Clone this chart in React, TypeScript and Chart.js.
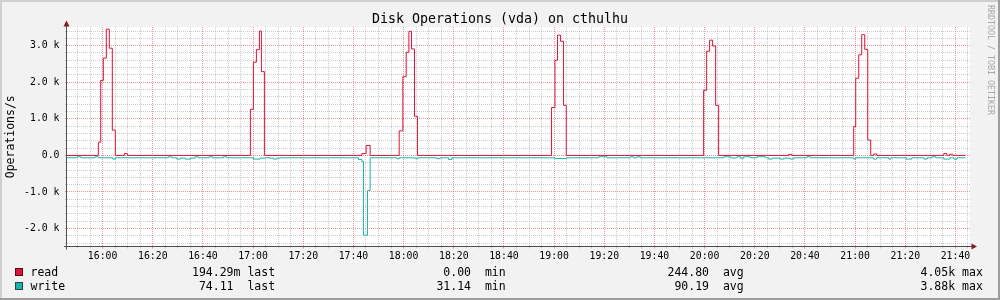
import React, { useEffect, useRef } from 'react';
import { Chart, registerables } from 'chart.js';

Chart.register(...registerables);

const FONT = '"DejaVu Sans Mono", monospace';

// ---- axes (time in minutes relative to 16:00) ----
const xMinMinutes = -14.2;
const xMaxMinutes = 345.8;
const xTickLabels = [
  '16:00', '16:20', '16:40', '17:00', '17:20', '17:40', '18:00', '18:20', '18:40',
  '19:00', '19:20', '19:40', '20:00', '20:20', '20:40', '21:00', '21:20', '21:40',
];
const yMinValue = -2490;
const yMaxValue = 3510;
const yTickValues = [-2000, -1000, 0, 1000, 2000, 3000];
const yTickLabels = ['-2.0 k', '-1.0 k', '0.0', '1.0 k', '2.0 k', '3.0 k'];

// ---- read series (ops/s), value holds from its time until the next time ----
const readTimes = [
  -14.2, -1.71, -0.76, 0.28, 1.48, 2.67, 3.87, 5.07, 8.66, 9.85,
  58.91, 60.11, 61.31, 62.51, 63.3, 64.5,
  103.35, 105.07, 106.66,
  118.23, 119.7, 121.02, 122.1, 123.14, 124.33, 125.53,
  178.98, 180.34, 181.37, 182.57, 183.77, 184.84,
  239.61, 240.81, 242.0, 243.2, 244.4, 245.59, 273.51, 274.71,
  299.44, 300.24, 301.44, 302.63, 303.83, 305.03, 306.22, 307.42, 308.62,
  335.34, 336.54, 337.73, 338.93, 344.0,
];
const readValues = [
  0, 360, 2050, 2660, 3450, 2930, 690, 0, 50, 0,
  1260, 2550, 2890, 3400, 2290, 0,
  50, 270, 0,
  670, 2150, 2820, 3390, 2910, 1070, 0,
  1310, 2600, 3290, 3120, 1370, 0,
  1780, 2850, 3150, 2990, 1370, 0, 30, 0,
  790, 2110, 2750, 3300, 2900, 420, 0, 40, 0,
  50, 0, 30, 0, 0,
];

// ---- write series (ops/s), drawn mirrored below zero ----
const writeTimes = [
  -14.2, -10.09, -8.74, -3.03, -1.71, 4.03, 5.07, 26.21, 27.56, 29.56, 30.87, 32.87, 34.86, 36.86, 38.17,
  42.44, 43.76, 48.15, 49.5, 60.11, 62.78, 64.78, 66.77, 68.09, 69.45, 70.76,
  102.0, 103.35, 103.99, 105.59, 106.66, 117.31, 118.23, 124.61, 125.53, 133.27, 134.58, 137.89, 139.25,
  180.34, 184.84, 197.73, 201.08, 210.37, 211.69, 213.04, 214.36,
  247.59, 250.26, 251.34, 252.25, 252.93, 254.25, 255.56, 258.24, 260.91, 264.22, 265.54, 266.89,
  270.2, 271.52, 274.19, 275.51, 280.85, 282.17,
  299.44, 300.24, 307.42, 308.62, 313.4, 314.2, 320.46, 322.58, 327.36, 328.72, 330.71, 332.15,
  335.34, 337.73, 339.33, 340.69, 344.0,
];
const writeValues = [
  65, 37, 65, 37, 65, 100, 65, 37, 65, 100, 75, 100, 75, 37, 65,
  37, 65, 37, 65, 100, 75, 65, 75, 100, 75, 65,
  110, 165, 2180, 960, 65, 90, 65, 90, 65, 90, 65, 110, 65,
  85, 65, 37, 65, 37, 65, 37, 65,
  37, 65, 75, 65, 37, 75, 37, 65, 37, 65, 100, 75,
  100, 75, 100, 65, 37, 65,
  100, 65, 100, 65, 100, 65, 100, 65, 100, 65, 37, 65,
  100, 65, 100, 65, 65,
];

// ---- legend ----
const legendNames = ['read', 'write'];
const legendColors = ['#dc143c', '#20b2aa'];
const legendLast = ['194.29m last', ' 74.11  last'];
const legendMin = ['  0.00  min', ' 31.14  min'];
const legendAvg = ['244.80  avg', ' 90.19  avg'];
const legendMax = ['4.05k max', '3.88k max'];

const TITLE = 'Disk Operations (vda) on cthulhu';
const Y_TITLE = 'Operations/s';
const WATERMARK = 'RRDTOOL / TOBI OETIKER';

const GRID = 'rgba(143,143,143,0.45)';
const MGRID = 'rgba(222,79,79,0.6)';
const AXIS = '#505050';
const ARROW = '#801f1f';

const near = (v: number, step: number) => Math.abs(v / step - Math.round(v / step)) < 1e-6;

const bgPlugin = {
  id: 'rrdBackground',
  beforeDraw(chart: any) {
    const { ctx, width, height, chartArea } = chart;
    ctx.save();
    ctx.fillStyle = '#f2f2f2';
    ctx.fillRect(0, 0, width, height);
    ctx.fillStyle = '#cfcfcf';
    ctx.fillRect(0, 0, width, 2);
    ctx.fillRect(0, 0, 2, height);
    ctx.fillStyle = '#9e9e9e';
    ctx.fillRect(width - 2, 0, 2, height);
    ctx.fillRect(0, height - 2, width, 2);
    ctx.fillStyle = '#ffffff';
    ctx.fillRect(chartArea.left, chartArea.top, chartArea.right - chartArea.left, chartArea.bottom - chartArea.top);
    ctx.restore();
  },
};

const axesPlugin = {
  id: 'rrdAxes',
  afterDatasetsDraw(chart: any) {
    const { ctx, chartArea } = chart;
    const { left, right, top, bottom } = chartArea;
    const ax = Math.round(left) - 0.5;
    const ay = Math.floor(bottom) + 0.5;
    ctx.save();
    ctx.strokeStyle = AXIS;
    ctx.lineWidth = 1;
    ctx.beginPath();
    ctx.moveTo(left - 3, ay);
    ctx.lineTo(right + 2, ay);
    ctx.moveTo(ax, bottom + 3);
    ctx.lineTo(ax, top - 1);
    ctx.stroke();
    ctx.fillStyle = ARROW;
    ctx.beginPath();
    ctx.moveTo(ax - 3, top - 0.5);
    ctx.lineTo(ax + 3, top - 0.5);
    ctx.lineTo(ax, top - 6.5);
    ctx.closePath();
    ctx.fill();
    ctx.beginPath();
    ctx.moveTo(right + 1.5, ay - 3);
    ctx.lineTo(right + 1.5, ay + 3);
    ctx.lineTo(right + 7, ay);
    ctx.closePath();
    ctx.fill();
    ctx.restore();
  },
};

export default function App() {
  const ref = useRef<HTMLCanvasElement>(null);

  useEffect(() => {
    const canvas = ref.current;
    if (!canvas) return;
    const readData = readTimes.map((t, i) => ({ x: t, y: readValues[i] }));
    const writeData = writeTimes.map((t, i) => ({ x: t, y: -writeValues[i] }));
    const chart = new Chart(canvas, {
      type: 'line',
      data: {
        datasets: [
          {
            label: legendNames[0],
            data: readData,
            borderColor: legendColors[0],
            borderWidth: 1,
            pointRadius: 0,
            stepped: 'before',
            fill: false,
          },
          {
            label: legendNames[1],
            data: writeData,
            borderColor: legendColors[1],
            borderWidth: 1,
            pointRadius: 0,
            stepped: 'before',
            fill: false,
          },
        ],
      },
      options: {
        responsive: false,
        animation: false,
        events: [],
        layout: { padding: { left: 0, top: 27, right: 30, bottom: 0 } },
        plugins: {
          legend: { display: false },
          tooltip: { enabled: false },
          title: { display: false },
        },
        scales: {
          x: {
            type: 'linear',
            min: xMinMinutes,
            max: xMaxMinutes,
            afterBuildTicks: (s: any) => {
              const t: any[] = [];
              for (let v = Math.ceil(xMinMinutes / 5) * 5; v <= xMaxMinutes; v += 5) t.push({ value: v });
              s.ticks = t;
            },
            afterFit: (s: any) => {
              s.height = 53.5;
            },
            border: { display: false, dash: [1, 1] },
            grid: {
              color: (c: any) => (near(c.tick.value, 20) ? MGRID : GRID),
              tickColor: (c: any) => (near(c.tick.value, 20) ? MGRID : GRID),
              tickLength: 2,
              tickBorderDash: [],
              drawTicks: true,
            },
            ticks: {
              autoSkip: false,
              maxRotation: 0,
              padding: 1.6,
              color: '#000',
              font: { family: FONT, size: 9.8 },
              callback: (v: any) => {
                const n = Number(v);
                if (!near(n, 20)) return '';
                const i = Math.round(n / 20);
                return xTickLabels[i] ?? '';
              },
            },
          },
          y: {
            type: 'linear',
            min: yMinValue,
            max: yMaxValue,
            afterBuildTicks: (s: any) => {
              const t: any[] = [];
              for (let v = Math.ceil(yMinValue / 200) * 200; v <= yMaxValue; v += 200) t.push({ value: v });
              s.ticks = t;
            },
            afterFit: (s: any) => {
              s.width = 67;
            },
            border: { display: false, dash: [1, 1] },
            grid: {
              color: (c: any) => (near(c.tick.value, 1000) ? MGRID : GRID),
              tickColor: (c: any) => (near(c.tick.value, 1000) ? MGRID : GRID),
              tickLength: 2,
              tickBorderDash: [],
              drawTicks: true,
            },
            title: {
              display: true,
              text: Y_TITLE,
              color: '#000',
              font: { family: FONT, size: 11.5 },
              padding: { top: 4.5, bottom: 0 },
            },
            ticks: {
              autoSkip: false,
              padding: 5.5,
              color: '#000',
              font: { family: FONT, size: 9.8 },
              callback: (v: any) => {
                const idx = yTickValues.findIndex((y) => Math.abs(y - Number(v)) < 1e-6);
                return idx >= 0 ? yTickLabels[idx] : '';
              },
            },
          },
        },
      },
      plugins: [bgPlugin, axesPlugin],
    } as any);
    return () => chart.destroy();
  }, []);

  const textBase: React.CSSProperties = {
    position: 'absolute',
    fontFamily: FONT,
    color: '#000',
    whiteSpace: 'pre',
    margin: 0,
  };
  const legendFont: React.CSSProperties = { fontSize: '11.5px', lineHeight: '14px' };
  const rowTops = [265, 279];
  const boxTops = [268, 282];

  return (
    <div style={{ position: 'absolute', left: 0, top: 0, width: 1000, height: 300, overflow: 'hidden' }}>
      <canvas
        ref={ref}
        width={1000}
        height={300}
        style={{ position: 'absolute', left: 0, top: 0, width: 1000, height: 300 }}
      />
      <div
        style={{
          ...textBase,
          left: 0,
          top: 11,
          width: 1000,
          textAlign: 'center',
          fontSize: '13.3px',
          lineHeight: '16px',
        }}
      >
        {TITLE}
      </div>
      {legendNames.map((name, i) => (
        <React.Fragment key={name}>
          <div
            style={{
              position: 'absolute',
              left: 15,
              top: boxTops[i],
              width: 6,
              height: 6,
              background: legendColors[i],
              border: '1px solid rgba(0,0,0,0.55)',
            }}
          />
          <div style={{ ...textBase, ...legendFont, left: 30.5, top: rowTops[i] }}>{name}</div>
          <div style={{ ...textBase, ...legendFont, left: 192, top: rowTops[i] }}>{legendLast[i]}</div>
          <div style={{ ...textBase, ...legendFont, left: 429.5, top: rowTops[i] }}>{legendMin[i]}</div>
          <div style={{ ...textBase, ...legendFont, left: 667.5, top: rowTops[i] }}>{legendAvg[i]}</div>
          <div style={{ ...textBase, ...legendFont, left: 920.5, top: rowTops[i] }}>{legendMax[i]}</div>
        </React.Fragment>
      ))}
      <div
        style={{
          ...textBase,
          left: 985,
          top: 5,
          width: 11,
          writingMode: 'vertical-rl',
          fontSize: '8.3px',
          lineHeight: '11px',
          color: '#a8a8a8',
        }}
      >
        {WATERMARK}
      </div>
    </div>
  );
}
